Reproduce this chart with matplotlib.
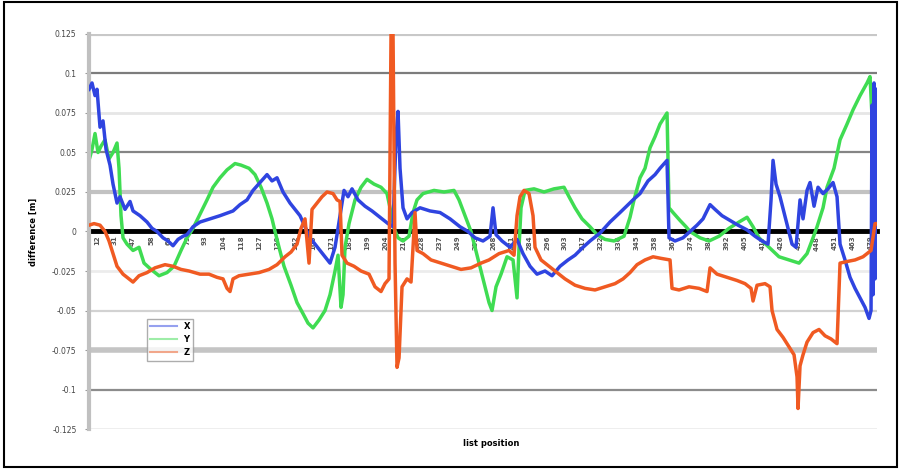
# Відхилення координат X, Y, Z вздовж списку позицій (відтворення графіка у стилі Excel).

import matplotlib
matplotlib.use("Agg")
import matplotlib.pyplot as plt
from matplotlib.patches import Rectangle

# --- дані (номер відліку, відхилення в метрах) ---
x_samples = [0, 3, 6, 8, 11, 14, 17, 21, 24, 28, 31, 36, 41, 44, 51, 58, 63, 68, 74, 79, 84, 89, 94, 98,
             104, 111, 121, 131, 144, 151, 158, 164, 171, 178, 183, 188, 194, 201, 206, 211, 216, 221,
             226, 231, 236, 241, 246, 251, 255, 259, 263, 269, 276, 283, 291, 299, 304, 307, 309, 311,
             314, 318, 323, 331, 341, 351, 361, 371, 379, 386, 394, 401, 404, 407, 413, 421, 428, 434,
             441, 448, 456, 463, 471, 479, 486, 494, 501, 511, 521, 531, 544, 551, 559, 566, 571, 578,
             580, 586, 594, 601, 608, 614, 621, 626, 633, 641, 649, 658, 666, 673, 679, 682, 684, 687,
             691, 695, 699, 703, 707, 711, 714, 718, 721, 725, 729, 734, 739, 744, 748, 751, 756, 761,
             766, 771, 776, 780, 782, 783, 784, 785, 786, 788]
x_values = [0.090, 0.094, 0.086, 0.090, 0.066, 0.070, 0.052, 0.042, 0.030, 0.018, 0.022, 0.014, 0.019,
            0.013, 0.010, 0.006, 0.002, 0.000, -0.004, -0.006, -0.009, -0.005, -0.003, -0.002, 0.003,
            0.006, 0.008, 0.010, 0.013, 0.017, 0.020, 0.026, 0.031, 0.036, 0.032, 0.034, 0.025, 0.018,
            0.014, 0.010, 0.003, -0.004, -0.008, -0.012, -0.016, -0.020, -0.010, 0.010, 0.026, 0.022,
            0.027, 0.020, 0.016, 0.013, 0.009, 0.005, 0.003, 0.060, 0.076, 0.040, 0.015, 0.008, 0.012,
            0.015, 0.013, 0.012, 0.008, 0.003, 0.000, -0.004, -0.006, -0.003, 0.015, -0.002, -0.006,
            -0.010, -0.005, -0.014, -0.022, -0.027, -0.025, -0.028, -0.022, -0.018, -0.015, -0.010,
            -0.006, -0.001, 0.006, 0.012, 0.020, 0.024, 0.032, 0.036, 0.040, 0.045, -0.004, -0.006,
            -0.004, 0.000, 0.004, 0.008, 0.017, 0.014, 0.010, 0.007, 0.004, 0.001, -0.003, -0.006,
            -0.008, 0.020, 0.045, 0.030, 0.022, 0.012, 0.002, -0.008, -0.010, 0.020, 0.008, 0.026,
            0.031, 0.016, 0.028, 0.024, 0.027, 0.031, 0.022, -0.008, -0.018, -0.029, -0.036, -0.042,
            -0.048, -0.055, -0.050, 0.080, -0.040, 0.094, -0.030, 0.090]

y_samples = [0, 3, 6, 9, 12, 16, 20, 24, 28, 30, 32, 34, 38, 44, 50, 55, 62, 70, 78, 85, 92, 98, 104,
             111, 118, 124, 131, 138, 146, 152, 160, 166, 172, 178, 183, 186, 190, 195, 202, 208, 214,
             219, 224, 230, 236, 241, 246, 249, 252, 254, 256, 260, 266, 272, 278, 285, 292, 298, 302,
             305, 309, 314, 320, 324, 328, 334, 345, 355, 365, 370, 376, 382, 388, 394, 400, 403, 407,
             412, 418, 424, 428, 430, 432, 436, 445, 455, 465, 475, 480, 486, 493, 501, 508, 516, 525,
             535, 541, 545, 551, 556, 561, 566, 571, 578, 580, 584, 591, 597, 601, 611, 620, 630, 640,
             650, 658, 664, 670, 680, 690, 700, 710, 718, 724, 728, 734, 738, 745, 751, 758, 764, 771,
             778, 781, 784, 786, 788]
y_values = [0.045, 0.052, 0.062, 0.050, 0.054, 0.058, 0.046, 0.050, 0.056, 0.040, 0.010, -0.004,
            -0.008, -0.012, -0.010, -0.020, -0.024, -0.028, -0.026, -0.022, -0.012, -0.004, 0.002,
            0.011, 0.020, 0.028, 0.034, 0.039, 0.043, 0.042, 0.040, 0.036, 0.028, 0.018, 0.008, 0.000,
            -0.010, -0.022, -0.034, -0.045, -0.052, -0.058, -0.061, -0.056, -0.050, -0.040, -0.025,
            -0.015, -0.048, -0.040, -0.010, 0.005, 0.020, 0.028, 0.033, 0.030, 0.028, 0.024, 0.012,
            0.002, -0.004, -0.006, -0.003, 0.012, 0.020, 0.024, 0.026, 0.025, 0.026, 0.020, 0.010,
            0.000, -0.015, -0.030, -0.045, -0.050, -0.035, -0.027, -0.016, -0.018, -0.042, -0.010,
            0.015, 0.026, 0.027, 0.025, 0.027, 0.028, 0.022, 0.015, 0.008, 0.003, -0.002, -0.005,
            -0.006, -0.003, 0.009, 0.020, 0.034, 0.040, 0.053, 0.060, 0.068, 0.075, 0.015, 0.012,
            0.007, 0.003, 0.000, -0.004, -0.006, -0.003, 0.002, 0.006, 0.009, 0.003, -0.004, -0.010,
            -0.016, -0.018, -0.020, -0.014, -0.004, 0.003, 0.015, 0.028, 0.040, 0.058, 0.068, 0.077,
            0.086, 0.094, 0.098, 0.060, 0.047, 0.050]

z_samples = [0, 5, 11, 16, 20, 24, 28, 34, 40, 44, 50, 58, 66, 76, 84, 92, 100, 111, 120, 128, 134,
             138, 141, 144, 150, 160, 170, 180, 188, 196, 202, 208, 212, 216, 220, 223, 228, 233, 238,
             244, 248, 251, 253, 258, 265, 272, 280, 286, 292, 296, 300, 302, 304, 306, 308, 310, 313,
             318, 322, 326, 328, 334, 342, 352, 362, 372, 382, 392, 400, 410, 420, 425, 428, 431, 435,
             440, 444, 446, 452, 460, 468, 476, 486, 496, 506, 516, 526, 534, 541, 548, 556, 564, 572,
             581, 583, 590, 600, 610, 618, 621, 628, 638, 648, 656, 662, 664, 668, 676, 681, 683, 688,
             694, 700, 705, 708, 709, 711, 714, 718, 724, 730, 736, 742, 748, 751, 758, 766, 774, 782,
             786, 788]
z_values = [0.004, 0.005, 0.004, 0.000, -0.006, -0.014, -0.022, -0.027, -0.030, -0.032, -0.028,
            -0.026, -0.023, -0.021, -0.022, -0.024, -0.025, -0.027, -0.027, -0.029, -0.030, -0.036,
            -0.038, -0.030, -0.028, -0.027, -0.026, -0.024, -0.021, -0.016, -0.013, -0.008, 0.002,
            0.008, -0.020, 0.014, 0.018, 0.022, 0.025, 0.024, 0.020, 0.019, -0.015, -0.020, -0.022,
            -0.025, -0.027, -0.035, -0.038, -0.033, -0.030, 0.125, 0.125, -0.020, -0.086, -0.080,
            -0.035, -0.030, -0.032, 0.012, -0.012, -0.014, -0.018, -0.020, -0.022, -0.024, -0.023,
            -0.020, -0.018, -0.014, -0.012, -0.015, 0.010, 0.022, 0.026, 0.024, 0.010, -0.010, -0.018,
            -0.022, -0.026, -0.030, -0.034, -0.036, -0.037, -0.035, -0.033, -0.030, -0.026, -0.021,
            -0.018, -0.016, -0.017, -0.018, -0.036, -0.037, -0.035, -0.036, -0.038, -0.023, -0.027,
            -0.029, -0.031, -0.033, -0.036, -0.044, -0.034, -0.033, -0.035, -0.050, -0.062, -0.067,
            -0.073, -0.078, -0.092, -0.112, -0.085, -0.078, -0.070, -0.064, -0.062, -0.066, -0.068,
            -0.071, -0.020, -0.019, -0.018, -0.016, -0.012, 0.005, 0.005]

tick_positions = [8, 26, 44, 62, 80, 98, 116, 134, 152, 170, 188, 206, 224, 242, 260, 278, 296, 314,
                  332, 350, 368, 386, 404, 422, 440, 458, 476, 494, 512, 530, 548, 566, 584, 602, 620,
                  638, 656, 674, 692, 710, 728, 746, 764, 782]
tick_labels = ["12", "31", "47", "58", "66", "79", "93", "104", "118", "127", "139", "152", "166",
               "171", "185", "199", "204", "216", "228", "237", "249", "255", "268", "271", "284",
               "296", "303", "317", "322", "336", "345", "358", "361", "374", "389", "392", "405",
               "417", "426", "433", "448", "451", "463", "479"]

y_ticks = [0.125, 0.1, 0.075, 0.05, 0.025, 0, -0.025, -0.05, -0.075, -0.1, -0.125]
y_tick_labels = ["0.125", "0.1", "0.075", "0.05", "0.025", "0", "-0.025", "-0.05", "-0.075", "-0.1", "-0.125"]


def draw_grid(ax):
    """Горизонтальні лінії сітки різної товщини (як на розмитому оригіналі)."""
    styles = {0.125: ("#c8c8c8", 3.0), 0.1: ("#7c7c7c", 1.6), 0.075: ("#e6e6e6", 2.0),
              0.05: ("#858585", 1.6), 0.025: ("#c2c2c2", 3.0), -0.025: ("#ececec", 2.0),
              -0.05: ("#d2d2d2", 1.6), -0.075: ("#c4c4c4", 4.0), -0.1: ("#8c8c8c", 1.6),
              -0.125: ("#ececec", 2.0)}
    for yv, (color, lw) in styles.items():
        ax.axhline(yv, color=color, lw=lw, zorder=0)


def main():
    fig = plt.figure(figsize=(9.01, 4.70), dpi=100)
    ax = fig.add_axes([0.0988, 0.0872, 0.8746, 0.8405])

    draw_grid(ax)

    ax.plot(x_samples, x_values, color="#2f44e0", lw=2.5, label="X", zorder=3)
    ax.plot(y_samples, y_values, color="#3fdc52", lw=2.5, label="Y", zorder=2)
    ax.plot(z_samples, z_values, color="#f05a22", lw=2.5, label="Z", zorder=4)

    ax.set_xlim(0, 788)
    ax.set_ylim(-0.125, 0.125)

    # вісь категорій проходить через нуль
    ax.spines["bottom"].set_position(("data", 0))
    ax.spines["bottom"].set_color("black")
    ax.spines["bottom"].set_linewidth(3.5)
    ax.spines["bottom"].set_zorder(1)
    ax.spines["left"].set_color("#c0c0c0")
    ax.spines["left"].set_linewidth(3)
    ax.spines["top"].set_visible(False)
    ax.spines["right"].set_visible(False)

    ax.set_xticks(tick_positions)
    ax.set_xticklabels(tick_labels, rotation=90, fontsize=5, color="#555555", fontweight="bold")
    ax.tick_params(axis="x", length=0, pad=3)

    ax.set_yticks(y_ticks)
    ax.set_yticklabels(y_tick_labels, fontsize=5.5, color="#444444")
    ax.tick_params(axis="y", length=3, color="#999999", pad=6)

    ax.set_ylabel("difference [m]", fontsize=6, fontweight="bold", labelpad=10)
    ax.set_xlabel("list position", fontsize=6, fontweight="bold")
    ax.xaxis.set_label_coords(0.51, -0.025)

    leg = ax.legend(loc="upper left", bbox_to_anchor=(0.068, 0.29), fontsize=6, frameon=True,
                    fancybox=False, edgecolor="#999999", handlelength=3.2, borderpad=0.4,
                    labelspacing=0.5, prop={"weight": "bold", "size": 6})
    for line in leg.get_lines():
        line.set_alpha(0.5)
        line.set_linewidth(1.5)

    # рамка навколо всієї діаграми
    fig.patches.append(Rectangle((0.0044, 0.0064), 0.9912, 0.9893, transform=fig.transFigure,
                                 fill=False, lw=1.5, ec="black"))

    fig.savefig("out.png", dpi=100)
    plt.close(fig)


if __name__ == "__main__":
    main()
